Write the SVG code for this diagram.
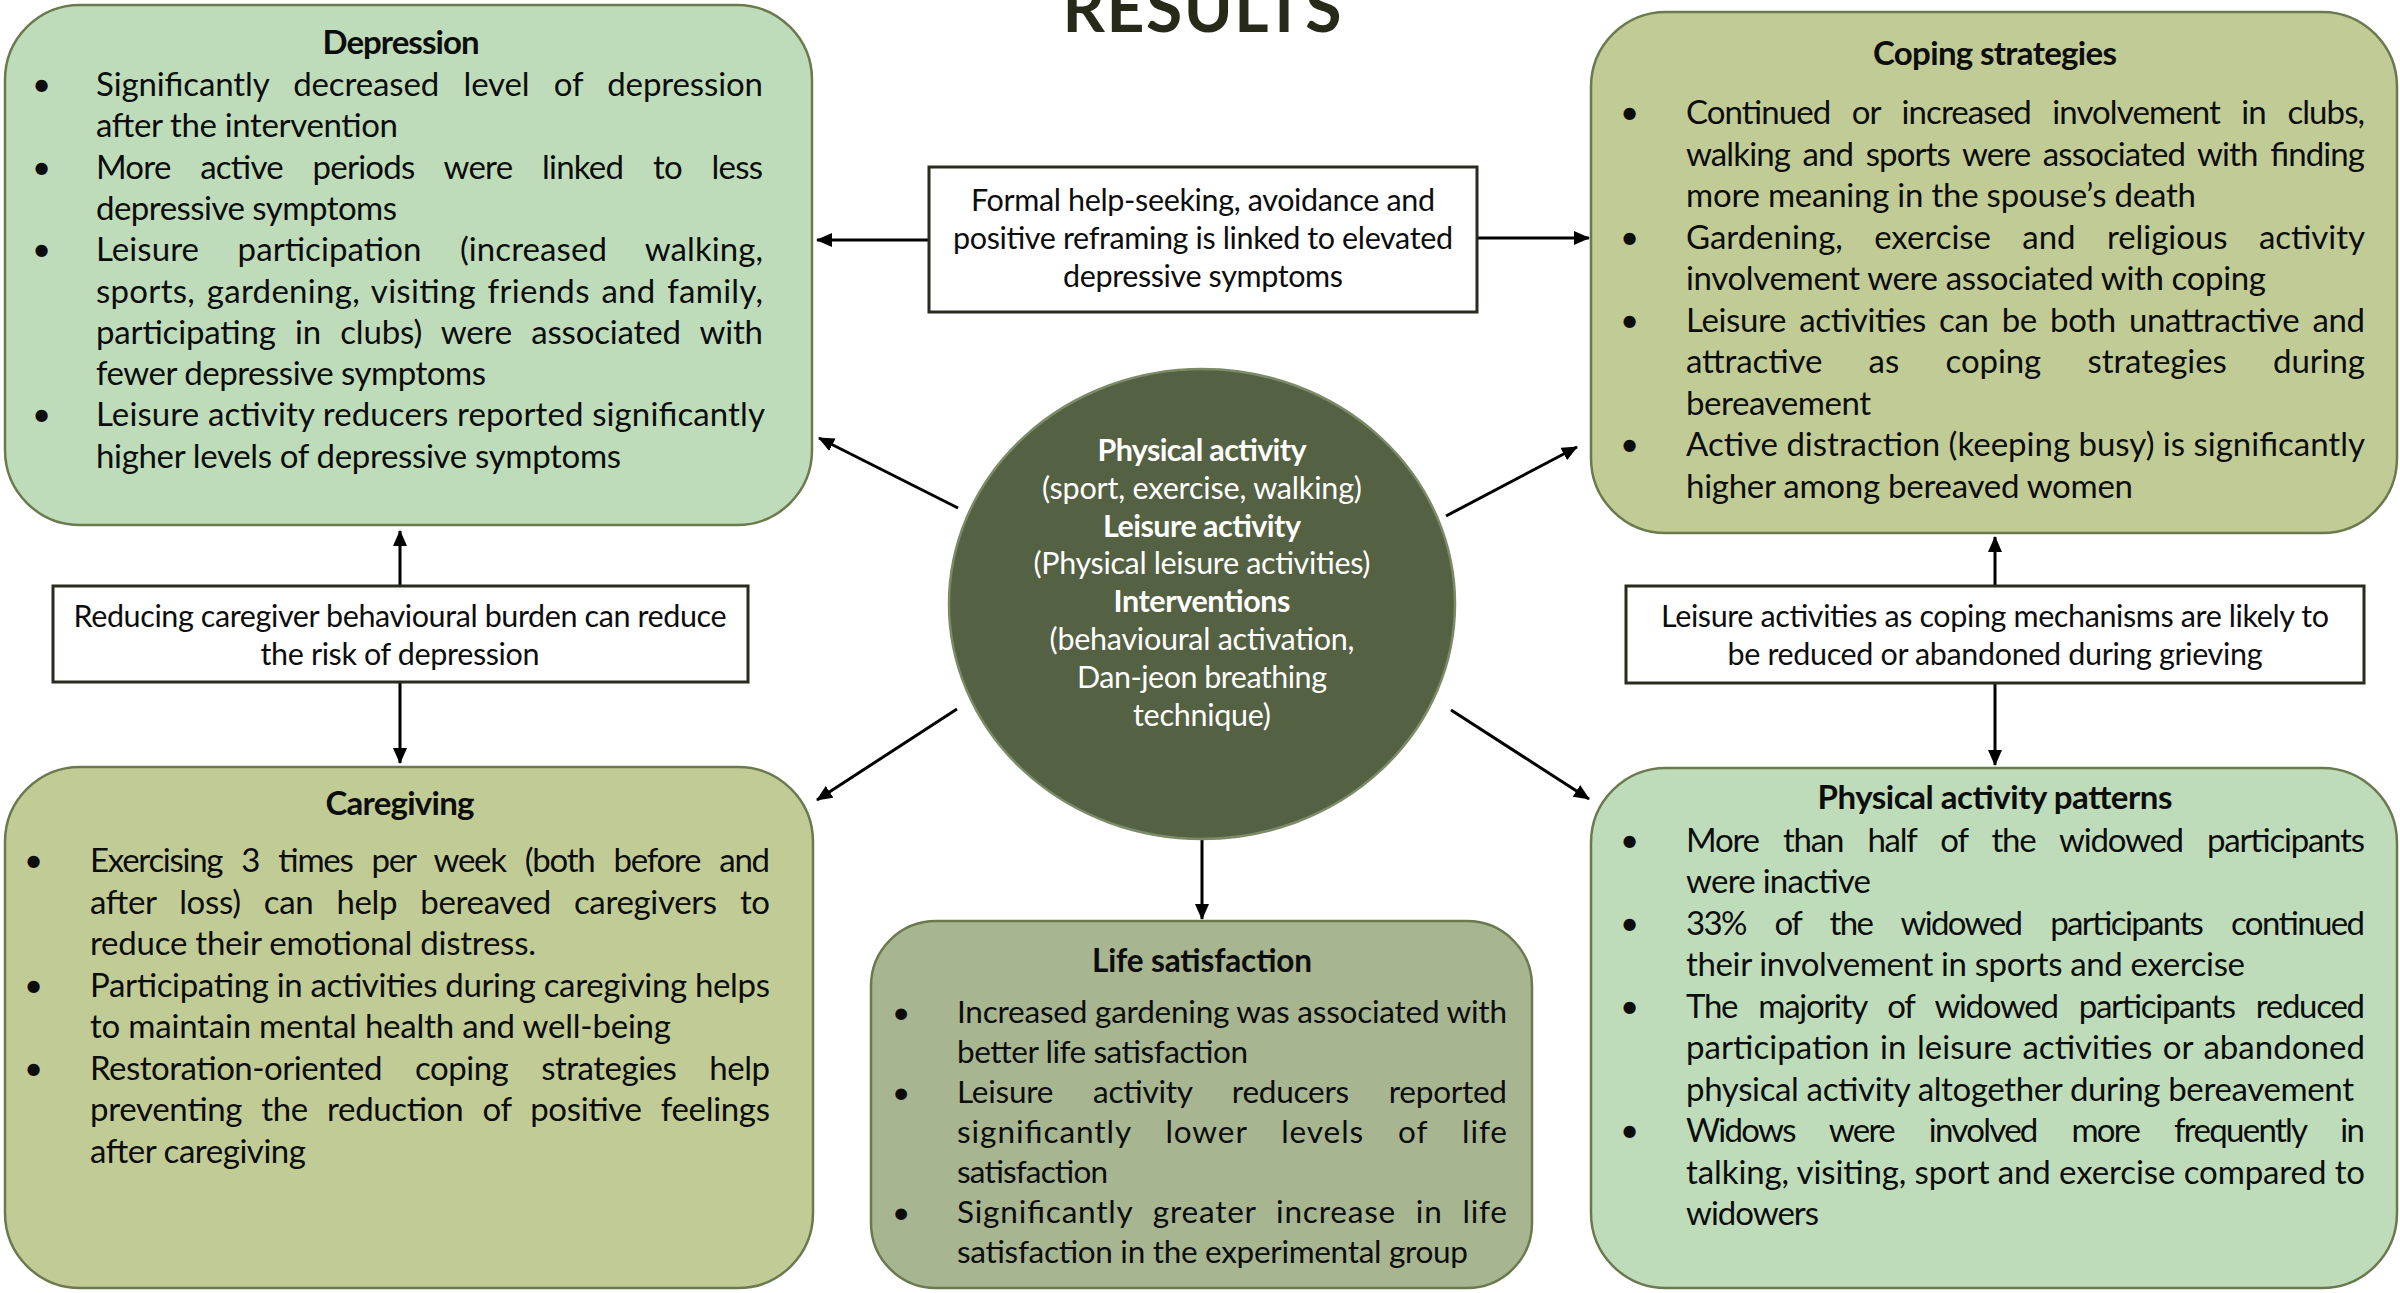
<svg xmlns="http://www.w3.org/2000/svg" width="2400" height="1293" viewBox="0 0 2400 1293">
<defs>
<marker id="ah" viewBox="0 0 16 14" refX="15" refY="7" markerWidth="16" markerHeight="14" markerUnits="userSpaceOnUse" orient="auto">
<path d="M0,0 L16,7 L0,14 z" fill="#000"/>
</marker>
<style>
text{font-family:Lato,"Liberation Sans",sans-serif;fill:#0d0d0d}
.b{font-size:33px}
.s{font-size:31.5px}
.c{font-size:30.5px}
.h{font-weight:700;text-anchor:middle}
.m{text-anchor:middle}
.w{fill:#ffffff}
.bx{stroke:#6b7a4e;stroke-width:2.5}
.g1{fill:#bfdcba}
.g2{fill:#c1cb96}
.g3{fill:#a7b590}
.nb{fill:#ffffff;stroke:#2a2b1e;stroke-width:3}
.cn line{stroke:#000;stroke-width:3;marker-end:url(#ah)}
</style>
</defs>
<rect width="2400" height="1293" fill="#ffffff"/>
<text x="1202" y="32" class="m" style="font-size:66px;font-weight:700;fill:#272a18" textLength="279" lengthAdjust="spacing">RESULTS</text>

<g class="cn">
<line x1="929" y1="240" x2="817" y2="240"/>
<line x1="1477" y1="238" x2="1589" y2="238"/>
<line x1="400" y1="586" x2="400" y2="531"/>
<line x1="400" y1="682" x2="400" y2="763"/>
<line x1="1995" y1="586" x2="1995" y2="537"/>
<line x1="1995" y1="683" x2="1995" y2="765"/>
<line x1="958" y1="508" x2="819" y2="438"/>
<line x1="1446" y1="516" x2="1577" y2="447"/>
<line x1="957" y1="709" x2="817" y2="800"/>
<line x1="1451" y1="710" x2="1589" y2="799"/>
<line x1="1202" y1="839" x2="1202" y2="919"/>
</g>

<g id="depression">
<rect x="5" y="5" width="807" height="520" rx="75" class="bx g1"/>
<text x="401" y="54" class="b h" textLength="157" lengthAdjust="spacing">Depression</text>
<g class="b" transform="translate(0,3)">
<text x="32" y="93">•</text><text x="32" y="176">•</text><text x="32" y="258">•</text><text x="32" y="423">•</text>
<text x="96" y="93" textLength="667" lengthAdjust="spacing" word-spacing="16">Significantly decreased level of depression</text>
<text x="96" y="134" textLength="302" lengthAdjust="spacing">after the intervention</text>
<text x="96" y="176" textLength="667" lengthAdjust="spacing" word-spacing="22">More active periods were linked to less</text>
<text x="96" y="217" textLength="301" lengthAdjust="spacing">depressive symptoms</text>
<text x="96" y="258" textLength="667" lengthAdjust="spacing" word-spacing="30">Leisure participation (increased walking,</text>
<text x="96" y="300" textLength="667" lengthAdjust="spacing" word-spacing="3">sports, gardening, visiting friends and family,</text>
<text x="96" y="341" textLength="667" lengthAdjust="spacing" word-spacing="11">participating in clubs) were associated with</text>
<text x="96" y="382" textLength="390" lengthAdjust="spacing">fewer depressive symptoms</text>
<text x="96" y="423" textLength="669" lengthAdjust="spacing">Leisure activity reducers reported significantly</text>
<text x="96" y="465" textLength="525" lengthAdjust="spacing">higher levels of depressive symptoms</text>
</g>
</g>

<g id="coping">
<rect x="1591" y="12" width="806" height="521" rx="75" class="bx g2"/>
<text x="1995" y="65" class="b h" textLength="244" lengthAdjust="spacing">Coping strategies</text>
<g class="b" transform="translate(0,3)">
<text x="1620" y="121">•</text><text x="1620" y="245.5">•</text><text x="1620" y="328.5">•</text><text x="1620" y="453">•</text>
<text x="1686" y="121" textLength="679" lengthAdjust="spacing" word-spacing="14">Continued or increased involvement in clubs,</text>
<text x="1686" y="162.5" textLength="679" lengthAdjust="spacing" word-spacing="5">walking and sports were associated with finding</text>
<text x="1686" y="204" textLength="510" lengthAdjust="spacing">more meaning in the spouse’s death</text>
<text x="1686" y="245.5" textLength="679" lengthAdjust="spacing" word-spacing="23">Gardening, exercise and religious activity</text>
<text x="1686" y="287" textLength="580" lengthAdjust="spacing">involvement were associated with coping</text>
<text x="1686" y="328.5" textLength="679" lengthAdjust="spacing" word-spacing="5">Leisure activities can be both unattractive and</text>
<text x="1686" y="370" textLength="679" lengthAdjust="spacing" word-spacing="38">attractive as coping strategies during</text>
<text x="1686" y="411.5" textLength="185" lengthAdjust="spacing">bereavement</text>
<text x="1686" y="453" textLength="679" lengthAdjust="spacing">Active distraction (keeping busy) is significantly</text>
<text x="1686" y="494.5" textLength="447" lengthAdjust="spacing">higher among bereaved women</text>
</g>
</g>

<g id="formal-help">
<rect x="929" y="167" width="548" height="145" class="nb"/>
<g class="c m" transform="translate(0,2)">
<text x="1203" y="209" textLength="464" lengthAdjust="spacing">Formal help-seeking, avoidance and</text>
<text x="1203" y="247" textLength="500" lengthAdjust="spacing">positive reframing is linked to elevated</text>
<text x="1203" y="285" textLength="280" lengthAdjust="spacing">depressive symptoms</text>
</g>
</g>

<g id="caregiver-burden">
<rect x="53" y="586" width="695" height="96" class="nb"/>
<g class="c m" transform="translate(0,1)">
<text x="400" y="626" textLength="653" lengthAdjust="spacing">Reducing caregiver behavioural burden can reduce</text>
<text x="400" y="664" textLength="279" lengthAdjust="spacing">the risk of depression</text>
</g>
</g>

<g id="leisure-coping">
<rect x="1626" y="586" width="738" height="97" class="nb"/>
<g class="c m" transform="translate(0,1)">
<text x="1995" y="626" textLength="668" lengthAdjust="spacing">Leisure activities as coping mechanisms are likely to</text>
<text x="1995" y="664" textLength="535" lengthAdjust="spacing">be reduced or abandoned during grieving</text>
</g>
</g>

<g id="center">
<ellipse cx="1202" cy="604" rx="253" ry="235" fill="#546142" stroke="#7b8b68" stroke-width="2.5"/>
<g class="c m" transform="translate(0,2)">
<text x="1202" y="459" class="w" font-weight="700" textLength="209" lengthAdjust="spacing">Physical activity</text>
<text x="1202" y="497" class="w" textLength="320" lengthAdjust="spacing">(sport, exercise, walking)</text>
<text x="1202" y="535" class="w" font-weight="700" textLength="198" lengthAdjust="spacing">Leisure activity</text>
<text x="1202" y="572" class="w" textLength="337" lengthAdjust="spacing">(Physical leisure activities)</text>
<text x="1202" y="610" class="w" font-weight="700" textLength="177" lengthAdjust="spacing">Interventions</text>
<text x="1202" y="648" class="w" textLength="305" lengthAdjust="spacing">(behavioural activation,</text>
<text x="1202" y="686" class="w" textLength="250" lengthAdjust="spacing">Dan-jeon breathing</text>
<text x="1202" y="724" class="w" textLength="138" lengthAdjust="spacing">technique)</text>
</g>
</g>

<g id="caregiving">
<rect x="5" y="767" width="808" height="521" rx="75" class="bx g2"/>
<text x="400" y="815" class="b h" textLength="149" lengthAdjust="spacing">Caregiving</text>
<g class="b" transform="translate(0,3)">
<text x="24" y="869">•</text><text x="24" y="993.5">•</text><text x="24" y="1076.5">•</text>
<text x="90" y="869" textLength="680" lengthAdjust="spacing" word-spacing="12">Exercising 3 times per week (both before and</text>
<text x="90" y="910.5" textLength="680" lengthAdjust="spacing" word-spacing="15">after loss) can help bereaved caregivers to</text>
<text x="90" y="952" textLength="446" lengthAdjust="spacing">reduce their emotional distress.</text>
<text x="90" y="993.5" textLength="680" lengthAdjust="spacing">Participating in activities during caregiving helps</text>
<text x="90" y="1035" textLength="581" lengthAdjust="spacing">to maintain mental health and well-being</text>
<text x="90" y="1076.5" textLength="680" lengthAdjust="spacing" word-spacing="25">Restoration-oriented coping strategies help</text>
<text x="90" y="1118" textLength="680" lengthAdjust="spacing" word-spacing="11">preventing the reduction of positive feelings</text>
<text x="90" y="1159.5" textLength="216" lengthAdjust="spacing">after caregiving</text>
</g>
</g>

<g id="life-satisfaction">
<rect x="871" y="921" width="661" height="367" rx="65" class="bx g3"/>
<text x="1202" y="972" class="s h" textLength="220" lengthAdjust="spacing">Life satisfaction</text>
<g class="s" transform="translate(0,2)">
<text x="892" y="1021">•</text><text x="892" y="1101">•</text><text x="892" y="1221">•</text>
<text x="957" y="1021" textLength="550" lengthAdjust="spacing">Increased gardening was associated with</text>
<text x="957" y="1061" textLength="291" lengthAdjust="spacing">better life satisfaction</text>
<text x="957" y="1101" textLength="550" lengthAdjust="spacing" word-spacing="32">Leisure activity reducers reported</text>
<text x="957" y="1141" textLength="550" lengthAdjust="spacing" word-spacing="25">significantly lower levels of life</text>
<text x="957" y="1181" textLength="151" lengthAdjust="spacing">satisfaction</text>
<text x="957" y="1221" textLength="550" lengthAdjust="spacing" word-spacing="11">Significantly greater increase in life</text>
<text x="957" y="1261" textLength="511" lengthAdjust="spacing">satisfaction in the experimental group</text>
</g>
</g>

<g id="pa-patterns">
<rect x="1591" y="768" width="806" height="520" rx="75" class="bx g1"/>
<text x="1995" y="809" class="b h" textLength="355" lengthAdjust="spacing">Physical activity patterns</text>
<g class="b" transform="translate(0,2)">
<text x="1620" y="849.5">•</text><text x="1620" y="932.5">•</text><text x="1620" y="1015.5">•</text><text x="1620" y="1140">•</text>
<text x="1686" y="849.5" textLength="679" lengthAdjust="spacing" word-spacing="17">More than half of the widowed participants</text>
<text x="1686" y="891" textLength="185" lengthAdjust="spacing">were inactive</text>
<text x="1686" y="932.5" textLength="679" lengthAdjust="spacing" word-spacing="22">33% of the widowed participants continued</text>
<text x="1686" y="974" textLength="559" lengthAdjust="spacing">their involvement in sports and exercise</text>
<text x="1686" y="1015.5" textLength="679" lengthAdjust="spacing" word-spacing="14">The majority of widowed participants reduced</text>
<text x="1686" y="1057" textLength="679" lengthAdjust="spacing" word-spacing="2">participation in leisure activities or abandoned</text>
<text x="1686" y="1098.5" textLength="668" lengthAdjust="spacing">physical activity altogether during bereavement</text>
<text x="1686" y="1140" textLength="679" lengthAdjust="spacing" word-spacing="28">Widows were involved more frequently in</text>
<text x="1686" y="1181.5" textLength="679" lengthAdjust="spacing">talking, visiting, sport and exercise compared to</text>
<text x="1686" y="1223" textLength="133" lengthAdjust="spacing">widowers</text>
</g>
</g>
</svg>
